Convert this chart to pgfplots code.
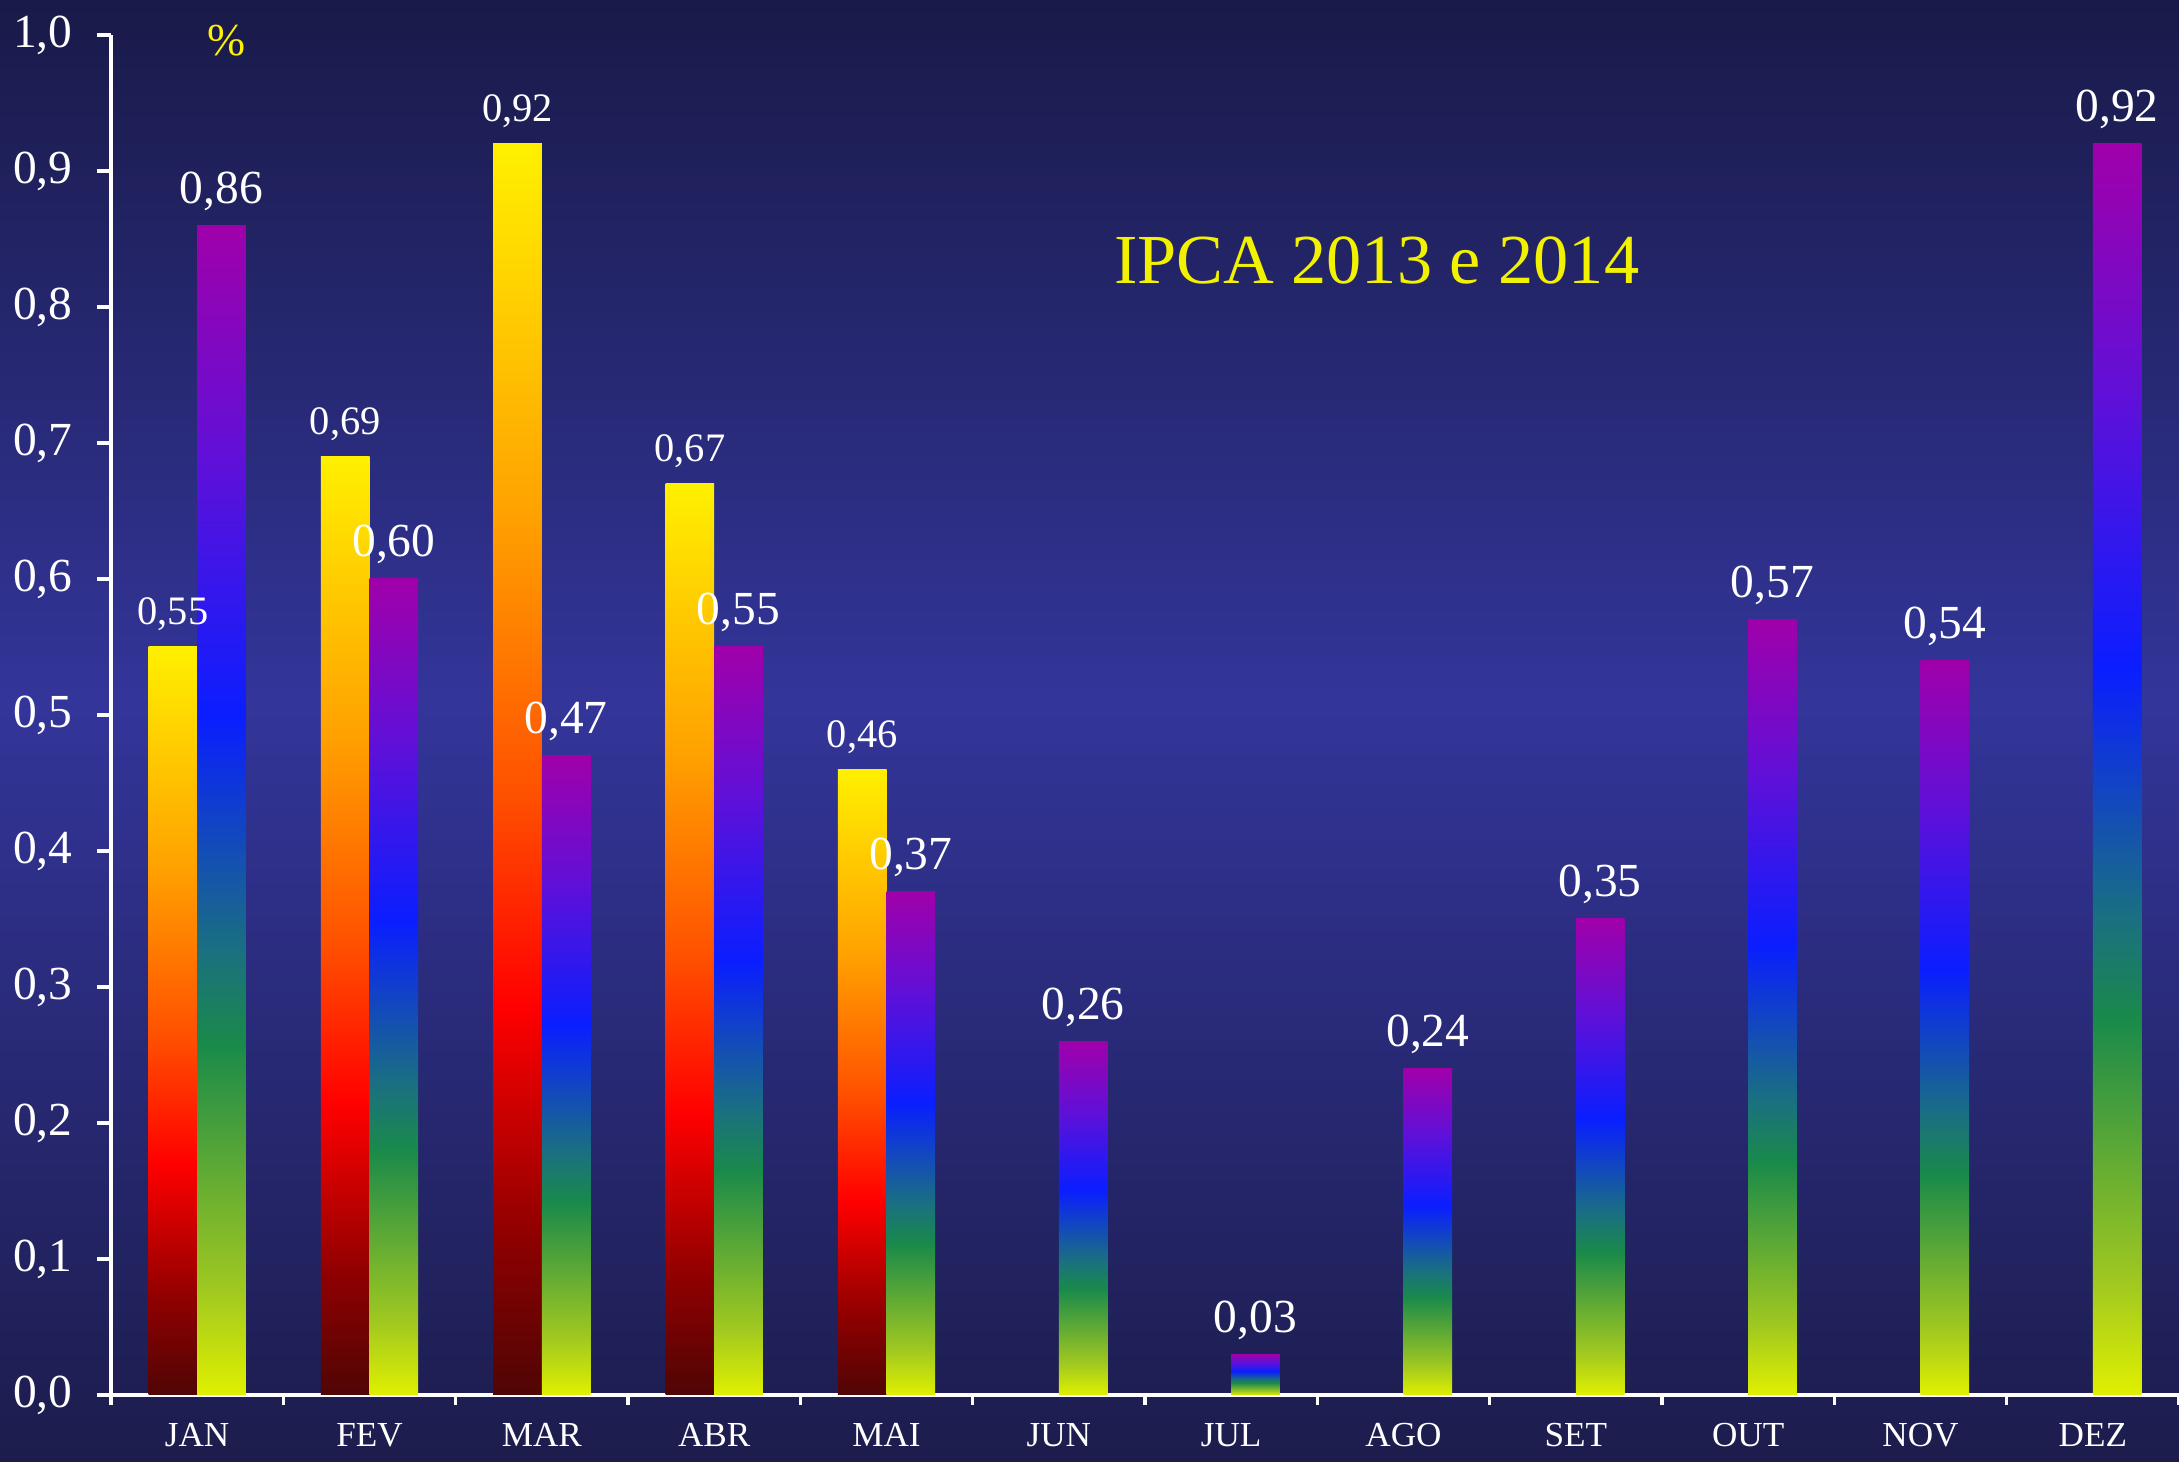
\documentclass[border=0pt]{standalone}
\usepackage{pgfplots}
\pgfplotsset{compat=1.18}
\usepackage{fontspec}
\setmainfont{Liberation Serif}

\definecolor{bgtop}{HTML}{191A48}
\definecolor{bgmid}{HTML}{33359A}
\definecolor{bgbot}{HTML}{1C1C4C}
\definecolor{ttl}{HTML}{F2F200}

% 2014: dark red -> red -> orange -> yellow
\definecolor{wA}{HTML}{500505}
\definecolor{wB}{HTML}{900000}
\definecolor{wC}{HTML}{FF0000}
\definecolor{wD}{HTML}{FF5000}
\definecolor{wE}{HTML}{FFA000}
\definecolor{wF}{HTML}{FFF000}
% 2013: yellow-green -> green -> blue -> purple
\definecolor{cA}{HTML}{E0F000}
\definecolor{cB}{HTML}{A0C820}
\definecolor{cC}{HTML}{1A8A4A}
\definecolor{cD}{HTML}{1A7080}
\definecolor{cE}{HTML}{0A1EFF}
\definecolor{cF}{HTML}{6010D8}
\definecolor{cG}{HTML}{A000AA}

% tikz maps 25bp..75bp onto the path
\pgfdeclareverticalshading{warm}{100bp}{color(0bp)=(wA); color(25bp)=(wA);
 color(31.5bp)=(wB); color(40.5bp)=(wC); color(49bp)=(wD); color(60bp)=(wE);
 color(75bp)=(wF); color(100bp)=(wF)}
\pgfdeclareverticalshading{cool}{100bp}{color(0bp)=(cA); color(25bp)=(cA);
 color(29.5bp)=(cB); color(40bp)=(cC); color(44bp)=(cD); color(54bp)=(cE);
 color(65bp)=(cF); color(75bp)=(cG); color(100bp)=(cG)}
\pgfdeclareverticalshading{bg}{100bp}{color(0bp)=(bgbot); color(25bp)=(bgbot);
 color(51bp)=(bgmid); color(75bp)=(bgtop); color(100bp)=(bgtop)}

\pgfplotsset{
 bar14/.style={ybar,bar width=0.486cm,bar shift=-0.243cm,draw=none,shade,shading=warm,
  nodes near coords,point meta=y,
  every node near coord/.append style={font=\fontsize{11.5}{13}\selectfont,text=white,
   anchor=base,inner sep=0pt,yshift=0.22cm,xshift=-0.243cm}},
 bar13/.style={ybar,bar width=0.486cm,bar shift=0.243cm,draw=none,shade,shading=cool,
  nodes near coords,point meta=y,
  every node near coord/.append style={font=\fontsize{13.5}{15}\selectfont,text=white,
   anchor=base,inner sep=0pt,yshift=0.22cm,xshift=0.243cm}},
}
% one plot per bar, so that each bar gets its own gradient
\newcommand{\ba}[2]{\addplot[bar14] coordinates {(#1,#2)};}
\newcommand{\bb}[2]{\addplot[bar13] coordinates {(#1,#2)};}

\begin{document}
\begin{tikzpicture}
\shade[shading=bg] (-1.11,-0.67) rectangle (20.68,13.95);
\begin{axis}[at={(0,0)},anchor=south west,scale only axis,
 width=20.68cm,height=13.6cm,
 xmin=-0.5,xmax=11.5,ymin=0,ymax=1,clip=false,
 axis x line*=bottom,axis y line*=left,
 axis line style={white,line width=0.9pt},
 tick style={white,line width=0.9pt},tick align=outside,
 major tick length=0.14cm,minor tick length=0.1cm,
 xtick={0,...,11},
 xticklabels={JAN,FEV,MAR,ABR,MAI,JUN,JUL,AGO,SET,OUT,NOV,DEZ},
 major x tick style={draw=none},
 minor xtick={-0.5,0.5,...,11.5},
 ytick={0,0.1,0.2,0.3,0.4,0.5,0.6,0.7,0.8,0.9,1},
 /pgf/number format/assume math mode=true,
 /pgf/number format/.cd,use comma,fixed,fixed zerofill,precision=2,/pgfplots/.cd,
 yticklabel style={/pgf/number format/precision=1,
  font=\fontsize{13.5}{15}\selectfont,text=white,xshift=-0.12cm},
 xticklabel style={font=\fontsize{10}{12}\selectfont,text=white,anchor=base,yshift=-0.375cm},
]
% IPCA 2014
\ba{0}{0.55} \ba{1}{0.69} \ba{2}{0.92} \ba{3}{0.67} \ba{4}{0.46}
% IPCA 2013
\bb{0}{0.86} \bb{1}{0.60} \bb{2}{0.47} \bb{3}{0.55} \bb{4}{0.37} \bb{5}{0.26}
\bb{6}{0.03} \bb{7}{0.24} \bb{8}{0.35} \bb{9}{0.57} \bb{10}{0.54} \bb{11}{0.92}
\node[font=\fontsize{20}{24}\selectfont,text=ttl] at (rel axis cs:0.612,0.834) {IPCA 2013 e 2014};
\node[font=\fontsize{13}{15}\selectfont,text=yellow] at (rel axis cs:0.056,0.996) {\%};
\end{axis}
\pgfresetboundingbox
\path[use as bounding box] (-1.11,-0.67) rectangle (20.68,13.95);
\end{tikzpicture}
\end{document}
